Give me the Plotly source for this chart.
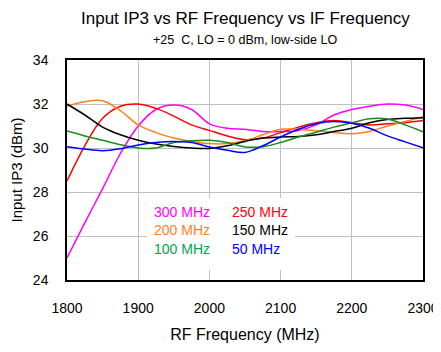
import plotly.graph_objects as go

freq = [1800, 1825, 1850, 1875, 1900, 1925, 1950, 1975, 2000, 2025, 2050,
        2075, 2100, 2125, 2150, 2175, 2200, 2225, 2250, 2275, 2300]

if_300 = [25.0, 26.6, 28.15, 29.75, 31.0, 31.75, 31.95, 31.75, 31.1, 30.9, 30.85,
          30.75, 30.75, 30.8, 31.05, 31.5, 31.75, 31.9, 32.0, 31.95, 31.75]
if_250 = [28.5, 30.1, 31.35, 31.9, 32.0, 31.8, 31.45, 31.05, 30.8, 30.55, 30.38,
          30.45, 30.7, 30.95, 31.15, 31.25, 31.15, 31.05, 31.1, 31.15, 31.25]
if_200 = [31.9, 32.1, 32.15, 31.7, 31.05, 30.7, 30.45, 30.3, 30.2, 30.2, 30.33,
          30.6, 30.85, 30.85, 30.78, 30.7, 30.65, 30.75, 31.0, 31.2, 31.42]
if_150 = [32.0, 31.5, 30.95, 30.6, 30.35, 30.18, 30.07, 30.0, 29.98, 30.1, 30.3,
          30.45, 30.5, 30.52, 30.6, 30.75, 30.9, 31.15, 31.3, 31.35, 31.38]
if_100 = [30.77, 30.55, 30.35, 30.15, 30.0, 30.0, 30.25, 30.33, 30.35, 30.25, 30.05,
          30.06, 30.25, 30.5, 30.72, 30.95, 31.15, 31.33, 31.32, 31.05, 30.74]
if_50 = [30.06, 29.95, 29.88, 29.97, 30.14, 30.25, 30.3, 30.25, 30.05, 29.9, 29.8,
         30.1, 30.5, 30.85, 31.1, 31.2, 31.12, 30.9, 30.55, 30.28, 30.01]

series = [
    ("300 MHz", if_300, "#ff00ff", "#ff00ff"),
    ("250 MHz", if_250, "#ff0000", "#ff0000"),
    ("200 MHz", if_200, "#ff7f1e", "#ff7f1e"),
    ("150 MHz", if_150, "#000000", "#000000"),
    ("100 MHz", if_100, "#1a8c1a", "#00a651"),
    ("50 MHz", if_50, "#0000ff", "#0000ff"),
]

FONT = "Liberation Sans, Arial, sans-serif"

fig = go.Figure()
for name, vals, lc, tc in series:
    fig.add_trace(go.Scatter(x=freq, y=vals, mode="lines", name=name,
                             line=dict(color=lc, width=1.5, shape="spline", smoothing=1.0),
                             showlegend=False))

# legend text block (white box over grid)
fig.add_shape(type="rect", xref="x", yref="y", x0=1912, x1=2120, y0=24.45, y1=27.73,
              fillcolor="white", line=dict(width=0), layer="between")

leg_pos = [(1920, 27.08), (2029, 27.08), (1920, 26.26), (2029, 26.26), (1920, 25.42), (2029, 25.42)]
for (name, vals, lc, tc), (lx, ly) in zip(series, leg_pos):
    fig.add_annotation(x=lx, y=ly, xref="x", yref="y", text=name, showarrow=False,
                       xanchor="left", yanchor="middle",
                       font=dict(family=FONT, size=14, color=tc))

fig.add_annotation(x=0.5, y=1.19, xref="paper", yref="paper", showarrow=False,
                   text="Input IP3 vs RF Frequency vs IF Frequency",
                   xanchor="center", yanchor="middle",
                   font=dict(family=FONT, size=17, color="black"))
fig.add_annotation(x=0.5, y=1.093, xref="paper", yref="paper", showarrow=False,
                   text="+25  C, LO = 0 dBm, low-side LO",
                   xanchor="center", yanchor="middle",
                   font=dict(family=FONT, size=12.5, color="black"))

fig.update_layout(
    width=433, height=344,
    margin=dict(l=59, r=18, t=52, b=72, autoexpand=False),
    paper_bgcolor="white", plot_bgcolor="white",
    font=dict(family=FONT, size=14, color="black"),
)
fig.update_xaxes(range=[1800, 2300], dtick=100, tick0=1800, automargin=False,
                 showgrid=True, gridcolor="#c0c0c0", gridwidth=1,
                 showline=True, linecolor="black", linewidth=1.5, mirror=True,
                 ticks="outside", ticklen=14, tickcolor="rgba(0,0,0,0)",
                 tickfont=dict(size=14),
                 title=dict(text="RF Frequency (MHz)", standoff=14, font=dict(size=16)),
                 zeroline=False)
fig.update_yaxes(range=[24, 34], dtick=2, tick0=24, automargin=False,
                 showgrid=True, gridcolor="#c0c0c0", gridwidth=1,
                 showline=True, linecolor="black", linewidth=1.5, mirror=True,
                 ticks="outside", ticklen=14, tickcolor="rgba(0,0,0,0)",
                 tickfont=dict(size=14),
                 title=dict(text="Input IP3 (dBm)", standoff=10, font=dict(size=15)),
                 zeroline=False)

fig.write_html("out.html")
